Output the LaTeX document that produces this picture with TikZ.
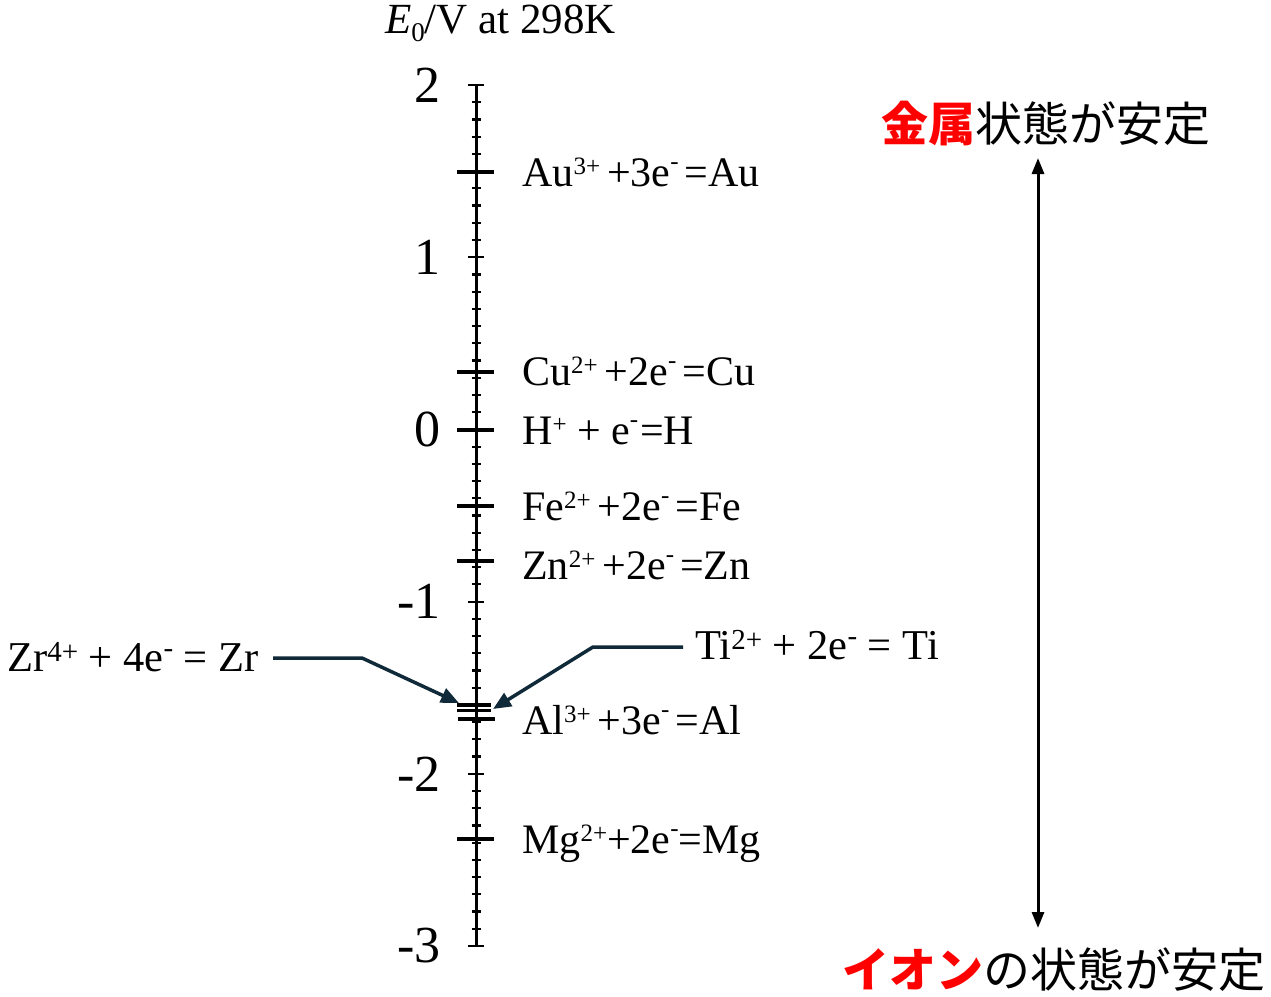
\documentclass[tikz,border=0pt]{standalone}
\usepackage{fontspec}
\setmainfont{Liberation Serif}
\newfontfamily\jp{Noto Sans CJK JP}
\usetikzlibrary{arrows.meta}
\definecolor{conncol}{RGB}{16,42,58}
\newcommand\sps[1]{\raisebox{12pt}{\fontsize{25}{25}\selectfont #1}}
\newcommand\smin{\raisebox{17pt}{\fontsize{25}{25}\selectfont -}}
\newcommand\spb[1]{\raisebox{10pt}{\fontsize{29}{29}\selectfont #1}}
\newcommand\sminb{\raisebox{14pt}{\fontsize{29}{29}\selectfont -}}
\begin{document}
\begin{tikzpicture}[x=1pt,y=-1pt,
  lbl/.style={anchor=base west, inner sep=0pt, font=\fontsize{42}{42}\selectfont},
  lblb/.style={anchor=base west, inner sep=0pt, font=\fontsize{42.5}{42.5}\selectfont},
  num/.style={anchor=east, inner sep=0pt, font=\fontsize{52}{52}\selectfont},
  jpl/.style={anchor=center, inner sep=0pt, font=\jp\fontsize{47}{47}\selectfont},
  rxn/.style={line width=4pt},
  rxnthin/.style={line width=3.2pt},
  minortick/.style={line width=2.2pt},
  majortick/.style={line width=2.2pt},
  conn/.style={draw=conncol, line width=3.5pt, line join=round, -{Triangle[length=18pt,width=15pt]}},
  dbl/.style={line width=3pt, {Triangle[length=16pt,width=12pt]}-{Triangle[length=16pt,width=12pt]}}
]
\useasboundingbox (0,0) rectangle (1271,996);

% title
\node[lbl, font=\fontsize{43}{43}\selectfont] (title) at (385,33) {\textit{E}\raisebox{-8pt}{\fontsize{27}{27}\selectfont 0}/V at 298K};

% axis
\draw[line width=3pt] (476,85) -- (476,946);
\foreach \i in {0,...,50}
  \draw[minortick] (471.5,{85+\i*17.22}) -- (480.5,{85+\i*17.22});
\foreach \i in {0,...,5}
  \draw[majortick] (468,{85+\i*172.2}) -- (484,{85+\i*172.2});

% axis numbers
\node[num] (n2) at (441,85) {2};
\node[num] (n1) at (441,257.2) {1};
\node[num] (n0) at (441,429.4) {0};
\node[num] (nm1) at (441,601.6) {-1};
\node[num] (nm2) at (441,773.8) {-2};
\node[num] (nm3) at (441,946) {-3};

% reaction ticks
\draw[rxn] (457,172) -- (494,172);
\draw[rxn] (457,372) -- (494,372);
\draw[rxn] (457,430) -- (494,430);
\draw[rxn] (457,506) -- (494,506);
\draw[rxn] (457,561) -- (494,561);
\draw[rxnthin] (457,705) -- (491,705);
\draw[rxnthin] (457,710.5) -- (491,710.5);
\draw[rxn] (458,719) -- (495,719);
\draw[rxn] (457,839) -- (494,839);

% reaction labels
\node[lbl] (au) at (522,186) {Au\sps{3+}\kern7pt+3e\smin\kern6pt=Au};
\node[lbl] (cu) at (522,385) {Cu\sps{2+}\kern7pt+2e\smin\kern6pt=Cu};
\node[lbl] (h) at (522,444) {H\sps{+} + e\smin\kern2pt=H};
\node[lbl] (fe) at (522,520) {Fe\sps{2+}\kern7pt+2e\smin\kern6pt=Fe};
\node[lbl] (zn) at (522,579) {Zn\sps{2+}\kern7pt+2e\smin\kern6pt=Zn};
\node[lbl] (al) at (522,734) {Al\sps{3+}\kern7pt+3e\smin\kern6pt=Al};
\node[lbl] (mg) at (522,853) {Mg\sps{2+}+2e\smin=Mg};

\node[lblb] (zr) at (7,671) {Zr\spb{4+} + 4e\sminb{} = Zr};
\node[lblb] (ti) at (695,659) {Ti\spb{2+} + 2e\sminb{} = Ti};

% connectors
\coordinate (zra) at (273,658);
\coordinate (zrb) at (362,658);
\coordinate (zrtip) at (459,703);
\coordinate (tia) at (683,647);
\coordinate (tib) at (593,647);
\coordinate (titip) at (493,709);
\draw[conn] (zra) -- (zrb) -- (zrtip);
\draw[conn] (tia) -- (tib) -- (titip);

% Japanese labels and double arrow
\node[jpl] (top) at (1046,124) {{\bfseries\color{red}金属}状態が安定};
\node[jpl] (bot) at (1054,970) {{\bfseries\color{red}イオン}の状態が安定};
\coordinate (up) at (1038,158);
\coordinate (dn) at (1038,928);
\draw[dbl] (up) -- (dn);
\end{tikzpicture}
\end{document}
